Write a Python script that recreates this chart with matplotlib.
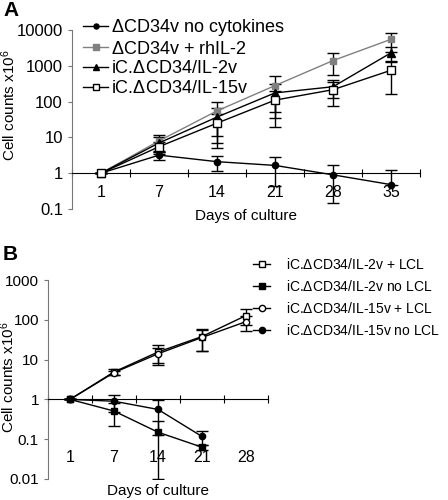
import numpy as np
import matplotlib
matplotlib.use("Agg")
import matplotlib.pyplot as plt

plt.rcParams["font.family"] = ["Liberation Sans", "DejaVu Sans"]
plt.rcParams["mathtext.default"] = "regular"

# ---- panel A data (cell counts x10^6, mean and SD) ----
days_a = ["1", "7", "14", "21", "28", "35"]
nocyt = [1, 3.2, 2.1, 1.65, 0.9, 0.48]
nocyt_sd = [0, 0.9, 0.95, 1.2, 0.75, 0.77]
rhil2 = [1, 8, 55, 280, 1400, 5500]
rhil2_sd = [0, 4, 44, 230, 840, 3000]
il2v = [1, 7, 37, 175, 260, 2300]
il2v_sd = [0, 3, 30, 140, 130, 1000]
il15v = [1, 5.5, 25, 110, 215, 750]
il15v_sd = [0, 2, 20, 90, 140, 590]

# ---- panel B data ----
days_b = ["1", "7", "14", "21", "28"]
il2_lcl = [1, 4.9, 15.5, 38, 128]
il2_lcl_sd = [0, 0.8, 8, 22, 55]
il2_nolcl = [1, 0.51, 0.15, 0.063]
il2_nolcl_sd = [0, 0.29, 0.14, 0.008]
il15_lcl = [1, 4.7, 14, 36, 90]
il15_lcl_sd = [0, 0.6, 6, 20, 38]
il15_nolcl = [1, 0.9, 0.56, 0.117]
il15_nolcl_sd = [0, 0.42, 0.43, 0.045]

W, H = 448, 500
fig = plt.figure(figsize=(W / 100, H / 100), dpi=100)


def box(l, t, r, b):
    return [l / W, 1 - b / H, (r - l) / W, (b - t) / H]


def series(ax, y, sd, color, marker, mfc, ms, label):
    y = np.asarray(y, float)
    sd = np.asarray(sd, float)
    x = np.arange(len(y))
    lower = np.where(sd < y, sd, 0)   # excel drops bars that go below zero
    ax.errorbar(x, y, yerr=[lower, sd], fmt="none", ecolor="black",
                elinewidth=1, capsize=4, capthick=1, zorder=2)
    ax.plot(x, y, color=color, lw=1, marker=marker, mfc=mfc, mec=color,
            ms=ms, mew=1, zorder=3, label=label)


def style(ax, cats, yticks, lab_y, xlab_y, ylab_xy, tick_fs):
    n = len(cats)
    ax.set_yscale("log")
    ax.set_ylim(yticks[0], yticks[-1])
    ax.set_xlim(-0.5, n - 0.5)
    ax.set_yticks(yticks, [f"{v:g}" for v in yticks], fontsize=tick_fs)
    ax.yaxis.set_minor_locator(matplotlib.ticker.NullLocator())
    ax.tick_params(axis="y", direction="out", length=3, width=0.8,
                   color="#777777")
    for s in ("top", "right"):
        ax.spines[s].set_visible(False)
    ax.spines["left"].set_color("#777777")
    ax.spines["bottom"].set_position(("data", 1))
    ax.set_xticks(np.arange(n + 1) - 0.5)
    ax.tick_params(axis="x", direction="inout", length=6, width=0.8,
                   labelbottom=False)
    for i, c in enumerate(cats):
        ax.text(i, lab_y, c, transform=ax.get_xaxis_transform(),
                ha="center", va="center", fontsize=11.5)
    ax.text(0.5 * (n - 1), xlab_y, "Days of culture",
            transform=ax.get_xaxis_transform(), ha="center", va="center",
            fontsize=11)
    ax.set_ylabel("Cell counts x10$^6$", fontsize=11)
    ax.yaxis.set_label_coords(*ylab_xy)


# ---- panel A ----
ax1 = fig.add_axes(box(72, 30, 420, 209))
series(ax1, nocyt, nocyt_sd, "black", "o", "black", 4.5, r"$\Delta$CD34v no cytokines")
series(ax1, rhil2, rhil2_sd, "#808080", "s", "#808080", 5, r"$\Delta$CD34v + rhIL-2")
series(ax1, il2v, il2v_sd, "black", "^", "black", 5.5, r"iC.$\Delta$CD34/IL-2v")
series(ax1, il15v, il15v_sd, "black", "s", "white", 5.5, r"iC.$\Delta$CD34/IL-15v")
style(ax1, days_a, [0.1, 1, 10, 100, 1000, 10000], 0.09, -0.04,
      (-0.155, 0.58), 12)
ax1.legend(loc="upper left", bbox_to_anchor=(83 / W, 1 - 17 / H),
           bbox_transform=fig.transFigure, frameon=False, fontsize=13,
           handlelength=1.4, handletextpad=0.15, borderpad=0,
           labelspacing=0.15, borderaxespad=0, markerscale=0.8)

# ---- panel B ----
ax2 = fig.add_axes(box(48, 280, 268, 479))
series(ax2, il2_lcl, il2_lcl_sd, "black", "s", "white", 4.5, r"iC.$\Delta$CD34/IL-2v + LCL")
series(ax2, il2_nolcl, il2_nolcl_sd, "black", "s", "black", 4.5, r"iC.$\Delta$CD34/IL-2v no LCL")
series(ax2, il15_lcl, il15_lcl_sd, "black", "o", "white", 4.5, r"iC.$\Delta$CD34/IL-15v + LCL")
series(ax2, il15_nolcl, il15_nolcl_sd, "black", "o", "black", 4.5, r"iC.$\Delta$CD34/IL-15v no LCL")
style(ax2, days_b, [0.01, 0.1, 1, 10, 100, 1000], 0.11, -0.06,
      (-0.14, 0.51), 11)
ax2.legend(loc="upper left", bbox_to_anchor=(253 / W, 1 - 257 / H),
           bbox_transform=fig.transFigure, frameon=False, fontsize=10,
           handlelength=1.25, handletextpad=1.1, borderpad=0,
           labelspacing=0.5, borderaxespad=0)

fig.text(3 / W, 1 - 11 / H, "A", fontsize=15, fontweight="bold", va="center")
fig.text(3 / W, 1 - 254 / H, "B", fontsize=15, fontweight="bold", va="center")

fig.savefig("out.png", dpi=100)
